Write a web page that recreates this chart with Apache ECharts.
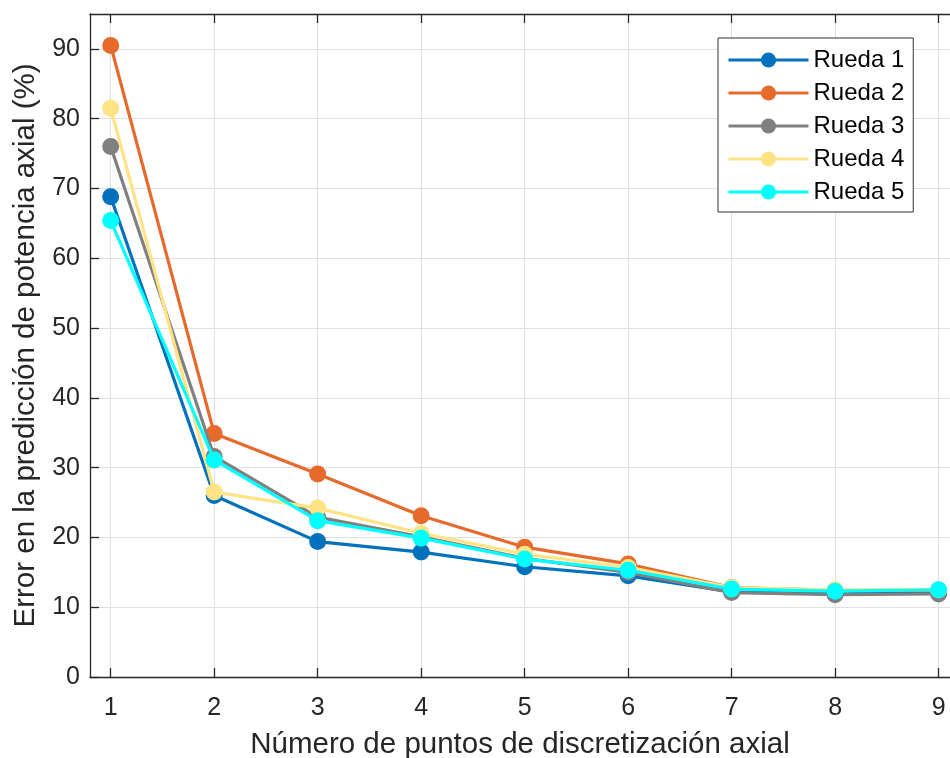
<!DOCTYPE html>
<html>
<head>
<meta charset="utf-8">
<script src="https://cdn.jsdelivr.net/npm/echarts@6/dist/echarts.min.js"></script>
<style>
  html, body { margin: 0; padding: 0; background: #fff; }
  #chart { width: 950px; height: 758px; }
</style>
</head>
<body>
<div id="chart"></div>
<script>
// Discretisation points (x) and prediction error (%) per wheel
const puntos = [1, 2, 3, 4, 5, 6, 7, 8, 9];
const rueda1 = [68.8, 26.0, 19.4, 17.9, 15.8, 14.5, 12.2, 11.9, 12.1];
const rueda2 = [90.5, 34.9, 29.1, 23.1, 18.6, 16.2, 12.8, 12.4, 12.4];
const rueda3 = [76.0, 31.6, 22.9, 20.1, 17.0, 15.0, 12.1, 11.8, 11.9];
const rueda4 = [81.5, 26.5, 24.2, 20.6, 17.6, 15.7, 12.8, 12.5, 12.5];
const rueda5 = [65.4, 31.1, 22.4, 19.9, 16.9, 15.3, 12.6, 12.3, 12.5];
const seriesNames = ['Rueda 1', 'Rueda 2', 'Rueda 3', 'Rueda 4', 'Rueda 5'];
const xTicks = [1, 2, 3, 4, 5, 6, 7, 8, 9];
const yTicks = [0, 10, 20, 30, 40, 50, 60, 70, 80, 90];

const colors = ['#0072BD', '#E66A2C', '#808080', '#FFE384', '#00FFFF'];
const allData = [rueda1, rueda2, rueda3, rueda4, rueda5];

const axisColor = '#262626';
const gridColor = '#E0E0E0';
const font = 'Liberation Sans, Arial, Helvetica, sans-serif';

const chart = echarts.init(document.getElementById('chart'), null, { renderer: 'canvas' });

const series = seriesNames.map((name, i) => ({
  name: name,
  type: 'line',
  data: puntos.map((x, j) => [x, allData[i][j]]),
  symbol: 'circle',
  symbolSize: 17,
  lineStyle: { width: 3.2, color: colors[i] },
  itemStyle: { color: colors[i] },
  z: 2 + i
}));

chart.setOption({
  animation: false,
  backgroundColor: '#ffffff',
  textStyle: { fontFamily: font },
  grid: { left: 90, right: 0, top: 14, bottom: 81, containLabel: false, outerBoundsMode: 'none' },
  legend: {
    data: seriesNames,
    left: 718,
    top: 38,
    orient: 'vertical',
    backgroundColor: '#ffffff',
    borderColor: '#333333',
    borderWidth: 1,
    borderRadius: 0,
    padding: [10, 9, 8, 9],
    itemWidth: 80,
    itemHeight: 19,
    itemGap: 9,
    lineStyle: { width: 3 },
    textStyle: { fontSize: 24, color: '#000', fontFamily: font }
  },
  xAxis: [{
    type: 'value',
    min: 0.8,
    max: 9.11,
    name: 'Número de puntos de discretización axial',
    nameLocation: 'middle',
    nameGap: 53,
    nameTextStyle: { fontSize: 29.5, color: axisColor, fontFamily: font },
    axisLine: { show: true, onZero: false, lineStyle: { color: axisColor, width: 1.3 } },
    axisTick: { show: true, inside: true, length: 9, customValues: xTicks, lineStyle: { color: axisColor, width: 1.3 } },
    axisLabel: { customValues: xTicks, fontSize: 25, color: axisColor, margin: 19, fontFamily: font },
    splitLine: { show: true, lineStyle: { color: gridColor, width: 1 } }
  }, {
    type: 'value',
    position: 'top',
    min: 0.8,
    max: 9.11,
    axisLine: { show: true, onZero: false, lineStyle: { color: axisColor, width: 1.3 } },
    axisTick: { show: true, inside: true, length: 9, customValues: xTicks, lineStyle: { color: axisColor, width: 1.3 } },
    axisLabel: { show: false },
    splitLine: { show: false }
  }],
  yAxis: {
    type: 'value',
    min: 0,
    max: 95,
    interval: 10,
    name: 'Error en la predicción de potencia axial (%)',
    nameLocation: 'middle',
    nameGap: 49,
    nameTextStyle: { fontSize: 29.5, color: axisColor, fontFamily: font },
    axisLine: { show: true, onZero: false, lineStyle: { color: axisColor, width: 1.3 } },
    axisTick: { show: true, inside: true, length: 9, customValues: yTicks, lineStyle: { color: axisColor, width: 1.3 } },
    axisLabel: { customValues: yTicks, fontSize: 25, color: axisColor, margin: 10, fontFamily: font },
    splitLine: { show: true, lineStyle: { color: gridColor, width: 1 } }
  },
  series: series
});
</script>
</body>
</html>
